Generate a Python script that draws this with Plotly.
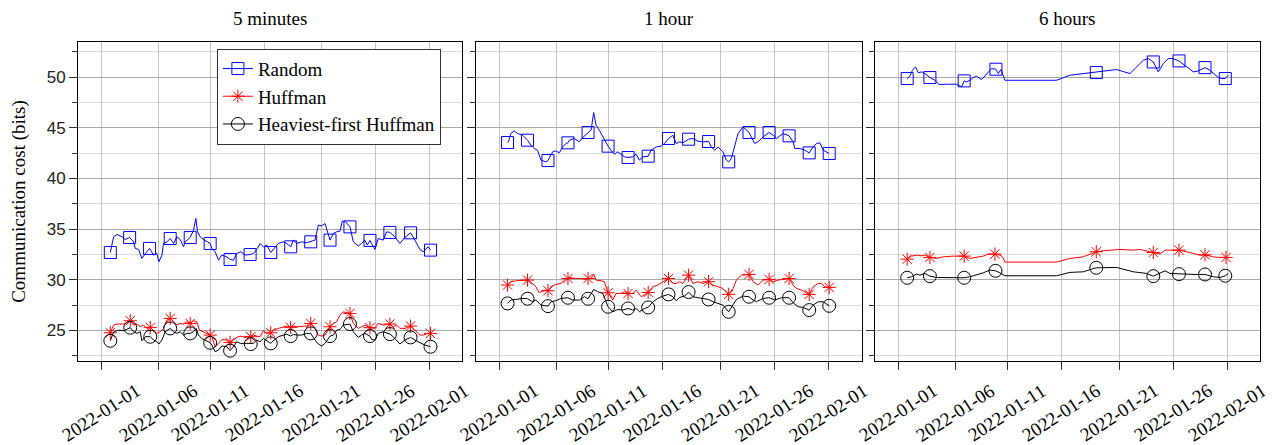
import plotly.graph_objects as go

# ---------------- data ----------------
tick_labels = ["2022-01-01", "2022-01-06", "2022-01-11", "2022-01-16",
               "2022-01-21", "2022-01-26", "2022-02-01"]
tick_pos = [0, 5.43, 10.26, 15.38, 20.80, 25.91, 31.0]
panel_titles = ["5 minutes", "1 hour", "6 hours"]
series_names = ["Random", "Huffman", "Heaviest-first Huffman"]

# Panel 1: 5 minutes
p1_random_x = [0.85, 1.16, 1.48, 1.95, 2.26, 2.67, 3.05, 3.20, 3.52, 3.83, 4.15, 4.55, 4.93, 5.24, 5.43,
               5.72, 5.87, 6.19, 6.50, 6.82, 7.13, 7.44, 7.76, 7.91, 8.39, 8.70, 8.92, 9.08, 9.33, 9.70,
               10.02, 10.27, 10.43, 10.74, 11.06, 11.37, 11.84, 12.15, 12.47, 12.78, 13.16, 13.57, 14.04,
               14.35, 14.73, 14.98, 15.30, 15.61, 15.99, 16.30, 16.71, 17.18, 17.49, 17.87, 18.12, 18.44,
               18.91, 19.38, 19.76, 20.16, 20.48, 20.79, 21.11, 21.26, 21.58, 21.89, 22.21, 22.52, 22.74,
               23.05, 23.46, 23.78, 24.25, 24.56, 24.87, 25.09, 25.35, 25.50, 25.82, 26.13, 26.60, 26.92,
               27.23, 27.70, 28.17, 28.64, 29.18, 29.59, 30.06, 30.37, 30.84, 31.06]
p1_random_y = [32.69, 34.24, 34.47, 34.24, 33.97, 34.17, 33.74, 33.09, 32.99, 32.10, 32.59, 33.09, 32.43, 32.59, 31.77,
               32.43, 33.58, 33.74, 34.07, 33.58, 34.24, 33.97, 33.25, 33.74, 34.17, 34.90, 36.05, 34.73, 34.24, 33.91,
               33.74, 33.58, 33.09, 32.76, 31.93, 32.43, 32.26, 32.00, 31.93, 32.59, 32.76, 32.43, 32.49,
               32.59, 33.09, 33.58, 33.25, 33.42, 32.69, 33.09, 33.58, 33.74, 33.58, 33.25, 33.91, 33.58,
               33.74, 33.65, 33.74, 33.91, 35.39, 35.32, 35.55, 35.06, 33.91, 34.57, 34.73, 34.80, 35.79,
               35.72, 35.22, 33.74, 33.32, 33.58, 33.91, 33.42, 33.88, 33.58, 32.99, 34.07, 33.91, 34.73,
               34.67, 34.24, 33.58, 34.17, 34.63, 33.91, 32.99, 32.76, 33.25, 32.92]
p1_huffman_x = [0.85, 1.16, 1.48, 2.10, 2.73, 3.05, 3.36, 3.67, 3.99, 4.30, 4.62, 4.93, 5.24, 5.56, 5.87,
                6.19, 6.50, 6.82, 7.13, 7.44, 7.76, 8.07, 8.39, 8.70, 9.01, 9.26, 9.64, 10.27, 10.43, 10.74,
                11.06, 11.37, 11.84, 12.15, 12.47, 12.78, 13.10, 13.57, 14.10, 14.35, 14.67, 14.98, 15.30,
                15.61, 15.99, 16.30, 16.71, 17.18, 17.49, 17.87, 18.12, 18.44, 18.91, 19.38, 19.76, 20.16,
                20.48, 20.79, 21.11, 21.58, 21.89, 22.21, 22.52, 22.83, 23.46, 23.78, 24.25, 24.56, 24.87,
                25.35, 25.82, 26.13, 26.60, 27.23, 27.54, 27.86, 28.17, 28.64, 29.18, 29.59, 30.06, 30.37,
                30.84, 31.06]
p1_huffman_y = [24.76, 25.52, 25.62, 25.62, 25.95, 25.52, 25.62, 25.35, 25.52, 25.19, 25.29, 25.03, 24.70, 24.86, 25.19,
                26.01, 26.18, 25.85, 25.52, 25.68, 25.62, 25.85, 25.68, 25.95, 25.85, 25.03, 24.86, 24.53, 24.37, 23.38,
                23.71, 24.10, 24.04, 23.81, 24.04, 24.30, 24.43, 24.30, 24.37, 24.53, 24.43, 24.37, 24.96,
                24.70, 24.76, 25.03, 25.19, 25.29, 25.42, 25.29, 25.42, 25.35, 25.35, 25.42, 25.68, 25.19,
                24.53, 24.43, 24.53, 25.35, 25.68, 25.85, 26.51, 26.83, 26.67, 25.68, 25.19, 25.35, 25.52,
                25.26, 25.19, 25.68, 25.52, 25.62, 25.35, 25.52, 25.19, 25.19, 25.42, 25.03, 24.53, 24.53,
                24.70, 24.70]
p1_heaviest_x = [0.85, 1.16, 1.63, 2.10, 2.73, 3.05, 3.36, 3.67, 3.83, 4.15, 4.62, 4.93, 5.24, 5.43, 5.72,
                 6.03, 6.50, 6.82, 7.13, 7.44, 7.76, 8.07, 8.39, 8.70, 8.95, 9.17, 9.48, 10.27, 10.43, 10.74,
                 11.06, 11.37, 11.84, 12.15, 12.47, 12.78, 13.10, 13.57, 14.10, 14.35, 14.67, 14.98, 15.30,
                 15.61, 15.99, 16.30, 16.71, 17.18, 17.49, 17.87, 18.12, 18.44, 18.91, 19.38, 19.76, 20.16,
                 20.48, 20.79, 21.11, 21.58, 21.89, 22.21, 22.52, 22.83, 23.46, 23.78, 24.25, 24.56, 24.87,
                 25.35, 25.50, 25.82, 26.13, 26.60, 27.23, 27.54, 27.86, 28.17, 28.64, 29.18, 29.59, 30.06,
                 30.53, 31.06]
p1_heaviest_y = [23.97, 24.86, 25.02, 24.96, 25.26, 24.86, 24.70, 24.86, 23.97, 24.37, 24.37, 24.04, 23.87, 23.64, 24.04,
                 24.86, 25.19, 24.86, 24.70, 24.86, 24.53, 24.70, 24.70, 24.86, 25.19, 24.53, 24.20, 23.77, 23.54, 22.89,
                 23.05, 23.45, 23.38, 22.99, 23.38, 23.87, 23.71, 23.71, 23.64, 23.71, 24.04, 23.87, 24.20,
                 23.97, 23.71, 24.04, 24.37, 24.53, 24.63, 24.43, 24.60, 24.53, 24.53, 24.70, 24.70, 24.04,
                 23.64, 23.45, 23.71, 24.43, 24.53, 25.02, 25.09, 25.52, 25.62, 24.86, 24.30, 24.53, 24.70,
                 24.43, 24.10, 24.04, 24.70, 24.86, 24.63, 24.37, 24.04, 23.64, 24.04, 24.30, 24.04, 23.77,
                 23.54, 23.38]
p1_marks = [0.85, 2.67, 4.58, 6.50, 8.39, 10.27, 12.15, 14.06, 15.99, 17.87, 19.76, 21.58,
            23.46, 25.35, 27.23, 29.18, 31.06]

# Panel 2: 1 hour
p2_random_x = [0.79, 0.88, 1.10, 1.41, 1.73, 2.20, 2.67, 2.98, 3.30, 3.61, 3.93, 4.40, 4.59, 4.71, 5.03,
               5.34, 5.65, 5.97, 6.28, 6.47, 6.60, 7.07, 7.54, 7.85, 8.36, 8.64, 8.89, 9.11, 9.42, 9.74,
               10.24, 10.52, 10.84, 11.15, 11.46, 11.78, 12.12, 12.56, 12.88, 13.19, 13.51, 14.01, 14.29,
               14.76, 15.23, 15.55, 15.92, 16.33, 16.65, 16.96, 17.27, 17.81, 18.22, 18.69, 19.16, 19.69,
               19.94, 20.26, 20.57, 21.04, 21.36, 21.58, 21.83, 22.14, 22.46, 22.93, 23.49, 24.03, 24.34,
               24.81, 25.38, 25.75, 26.07, 26.70, 27.26, 27.64, 27.80, 28.27, 28.74, 29.15, 29.52, 29.84,
               30.15, 30.47, 31.03]
p2_random_y = [43.55, 43.62, 44.44, 44.70, 44.44, 44.27, 43.78, 43.29, 42.96, 42.79, 41.81, 41.64, 41.77, 41.97, 42.63,
               42.73, 42.53, 43.12, 43.45, 43.52, 43.78, 43.95, 43.62, 44.04, 44.54, 44.77, 46.51, 45.26, 44.77, 44.11,
               43.19, 42.79, 42.40, 42.63, 42.40, 42.14, 42.07, 42.14, 42.40, 41.81, 42.14, 42.20, 42.79,
               43.12, 43.19, 43.45, 43.95, 44.27, 43.45, 43.62, 43.52, 43.88, 43.95, 43.68, 43.62, 43.65,
               43.12, 42.79, 43.12, 42.63, 41.81, 41.64, 41.97, 43.29, 44.44, 45.10, 44.54, 43.45, 43.62,
               44.11, 44.54, 44.27, 43.95, 44.44, 44.21, 43.62, 42.96, 42.96, 42.79, 42.53, 43.12, 43.45,
               43.52, 42.79, 42.47]
p2_huffman_x = [0.79, 1.10, 1.57, 2.20, 2.67, 3.14, 3.46, 3.77, 4.24, 4.59, 4.87, 5.34, 5.81, 6.28, 6.47,
                6.60, 7.22, 7.70, 8.17, 8.36, 8.64, 8.89, 9.11, 9.58, 9.89, 10.24, 10.68, 10.99, 11.46, 11.78,
                12.12, 12.56, 12.88, 13.35, 13.66, 14.01, 14.45, 14.92, 15.39, 15.92, 16.33, 16.65, 16.96,
                17.27, 17.81, 18.22, 18.69, 19.16, 19.69, 20.10, 20.57, 21.04, 21.58, 21.99, 22.30, 22.77,
                23.49, 23.87, 24.34, 24.81, 25.38, 25.75, 26.23, 26.85, 27.26, 27.64, 27.95, 28.42, 28.74,
                29.15, 29.52, 29.99, 30.31, 30.62, 31.03]
p2_huffman_y = [29.47, 29.80, 29.90, 29.96, 29.96, 29.63, 29.30, 28.71, 28.97, 28.91, 29.30, 29.53, 29.63, 30.12, 30.12,
                30.22, 30.12, 30.12, 30.03, 30.12, 30.12, 30.55, 29.96, 29.90, 29.80, 28.71, 27.99, 28.64, 28.64, 28.81,
                28.64, 28.64, 28.97, 28.32, 28.48, 28.74, 29.30, 29.47, 29.80, 30.12, 29.63, 29.63, 29.80,
                29.63, 30.45, 29.63, 29.80, 29.63, 29.80, 29.47, 29.30, 29.14, 28.55, 29.14, 29.96, 30.45,
                30.52, 29.80, 29.47, 29.96, 30.03, 29.80, 29.96, 30.03, 30.12, 29.47, 29.14, 28.97, 28.81,
                28.55, 29.30, 29.63, 29.63, 29.30, 29.24]
p2_heaviest_x = [0.79, 1.10, 1.57, 2.20, 2.67, 3.14, 3.46, 3.93, 4.59, 4.87, 5.34, 5.81, 6.47, 6.91, 7.54,
                 8.01, 8.36, 8.64, 8.89, 9.27, 9.74, 10.24, 10.68, 11.15, 11.62, 12.12, 12.56, 12.88, 13.19,
                 13.66, 14.01, 14.45, 14.92, 15.39, 15.92, 16.33, 16.65, 16.96, 17.43, 17.81, 18.22, 18.69,
                 19.16, 19.69, 20.10, 20.57, 21.04, 21.58, 21.99, 22.30, 22.93, 23.49, 23.87, 24.19, 24.81,
                 25.38, 25.91, 26.54, 27.26, 27.64, 28.11, 28.58, 29.15, 29.52, 29.99, 30.47, 31.03]
p2_heaviest_y = [27.66, 27.99, 28.05, 28.15, 28.12, 27.82, 27.99, 27.49, 27.39, 27.82, 27.92, 28.15, 28.22, 27.99, 27.99,
                 28.32, 28.12, 28.64, 29.04, 28.81, 28.64, 27.33, 26.83, 27.06, 27.00, 27.16, 27.00, 27.16, 26.83,
                 27.16, 27.26, 27.82, 28.15, 28.38, 28.55, 28.32, 27.92, 28.25, 28.38, 28.78, 28.32, 28.22,
                 28.15, 28.05, 27.82, 27.66, 27.49, 26.83, 27.49, 28.05, 28.38, 28.32, 27.99, 27.82, 28.15,
                 28.22, 27.99, 28.22, 28.22, 27.72, 27.33, 27.26, 27.00, 27.49, 27.82, 27.82, 27.42]
p2_marks = [0.79, 2.67, 4.59, 6.47, 8.36, 10.24, 12.12, 14.01, 15.92, 17.81, 19.69, 21.58,
            23.49, 25.38, 27.26, 29.15, 31.03]

# Panel 3: 6 hours
p3_random_x = [0.84, 1.09, 1.34, 1.63, 1.88, 2.19, 2.51, 2.98, 3.45, 3.83, 4.55, 5.49, 5.96, 6.21, 6.43,
               6.75, 7.06, 7.37, 7.85, 8.32, 8.79, 9.20, 9.42, 9.67, 10.04, 11.46, 13.03, 14.91, 16.17,
               17.42, 18.65, 19.31, 20.57, 21.82, 22.45, 23.08, 23.55, 24.02, 24.49, 24.96, 25.43, 25.90,
               26.44, 27.00, 27.79, 28.26, 28.89, 29.36, 30.14, 30.46, 30.80, 31.09]
p3_random_y = [49.87, 50.10, 50.69, 51.02, 50.43, 50.53, 50.36, 49.97, 49.70, 49.28, 49.31, 49.31, 49.05, 49.64, 49.54,
               49.70, 49.97, 50.10, 49.77, 50.36, 50.86, 50.79, 50.36, 50.76, 49.70, 49.70, 49.70, 49.70, 50.20,
               50.36, 50.46, 50.59, 50.76, 50.36, 51.02, 51.68, 51.84, 51.51, 50.53, 51.35, 51.84, 51.84,
               51.61, 51.18, 50.53, 50.62, 50.95, 50.69, 49.97, 49.87, 49.87, 50.20]
p3_huffman_x = [0.84, 1.25, 1.72, 2.19, 2.51, 2.98, 3.61, 4.23, 5.18, 6.21, 6.75, 7.37, 8.00, 8.47, 9.10,
                9.57, 9.82, 10.04, 11.46, 13.03, 14.91, 16.17, 17.42, 18.65, 19.31, 20.88, 22.14, 22.76,
                23.39, 24.02, 24.65, 25.12, 25.90, 26.44, 27.16, 27.95, 28.42, 28.89, 29.67, 30.30, 30.87]
p3_huffman_y = [32.03, 32.33, 32.43, 32.36, 32.43, 32.20, 32.10, 32.26, 32.33, 32.33, 32.10, 32.20, 32.33, 32.53, 32.53,
                32.43, 32.26, 31.74, 31.74, 31.74, 31.74, 32.10, 32.26, 32.76, 32.86, 32.99, 32.92, 32.99,
                32.82, 32.69, 32.53, 32.92, 32.92, 32.92, 32.76, 32.53, 32.43, 32.46, 32.26, 32.20, 32.20]
p3_heaviest_x = [0.84, 1.25, 1.72, 2.03, 2.51, 2.98, 3.61, 5.18, 6.21, 6.75, 7.37, 8.00, 8.63, 9.16, 9.57,
                 9.82, 10.04, 11.46, 13.03, 14.91, 16.17, 17.42, 18.65, 19.31, 20.57, 22.14, 23.39, 24.02,
                 24.65, 25.12, 25.59, 26.44, 27.16, 27.95, 28.42, 28.89, 29.67, 30.30, 30.80, 31.09]
p3_heaviest_y = [30.19, 30.29, 30.55, 30.45, 30.62, 30.35, 30.22, 30.22, 30.19, 30.29, 30.45, 30.68, 30.95, 30.88, 30.68,
                 30.55, 30.39, 30.39, 30.39, 30.39, 30.72, 30.78, 31.18, 31.21, 31.21, 30.78, 30.62, 30.35,
                 30.68, 30.88, 30.62, 30.55, 30.55, 30.52, 30.55, 30.52, 30.29, 30.22, 30.39, 30.62]
p3_marks = [0.84, 2.98, 6.21, 9.16, 18.65, 24.02, 26.44, 28.89, 30.80]

# ---------------- figure ----------------
panels = [
    ([(p1_random_x, p1_random_y), (p1_huffman_x, p1_huffman_y), (p1_heaviest_x, p1_heaviest_y)], p1_marks),
    ([(p2_random_x, p2_random_y), (p2_huffman_x, p2_huffman_y), (p2_heaviest_x, p2_heaviest_y)], p2_marks),
    ([(p3_random_x, p3_random_y), (p3_huffman_x, p3_huffman_y), (p3_heaviest_x, p3_heaviest_y)], p3_marks),
]
colors = ["#0000ff", "#ff0000", "#000000"]
symbols = ["square-open", "asterisk-open", "circle-open"]
msizes = [12, 11, 13]

SERIF = "Liberation Serif"
SANS = "Liberation Sans"


def mark_idx(xs, marks):
    return [min(range(len(xs)), key=lambda i: abs(xs[i] - m)) for m in marks]


fig = go.Figure()
for p, (series, marks) in enumerate(panels):
    xa = "x" if p == 0 else f"x{p + 1}"
    ya = "y" if p == 0 else f"y{p + 1}"
    for s, (xs, ys) in enumerate(series):
        fig.add_trace(go.Scatter(x=xs, y=ys, mode="lines", xaxis=xa, yaxis=ya,
                                 line=dict(color=colors[s], width=1), showlegend=False,
                                 hoverinfo="skip"))
        idx = mark_idx(xs, marks)
        fig.add_trace(go.Scatter(x=[xs[i] for i in idx], y=[ys[i] for i in idx], mode="markers",
                                 xaxis=xa, yaxis=ya, showlegend=False,
                                 marker=dict(symbol=symbols[s], size=msizes[s], color=colors[s],
                                             line=dict(color=colors[s], width=1))))

for s in range(3):
    fig.add_trace(go.Scatter(x=[None], y=[None], mode="lines+markers", name=series_names[s],
                             line=dict(color=colors[s], width=1),
                             marker=dict(symbol=symbols[s], size=msizes[s], color=colors[s],
                                         line=dict(color=colors[s], width=1))))

domains = [[0.0, 0.3252], [0.3365, 0.6629], [0.6742, 1.0]]
annotations = []
for p in range(3):
    xkey = "xaxis" if p == 0 else f"xaxis{p + 1}"
    ykey = "yaxis" if p == 0 else f"yaxis{p + 1}"
    fig.layout[xkey] = dict(
        domain=domains[p], range=[-2.2, 34.07], tickmode="array", tickvals=tick_pos,
        showticklabels=False, ticks="outside", ticklen=8, tickcolor="#333",
        showgrid=True, gridcolor="#c4c4c4", gridwidth=1, zeroline=False,
        showline=True, linecolor="black", linewidth=1, mirror=True,
        anchor="y" if p == 0 else f"y{p + 1}")
    fig.layout[ykey] = dict(
        range=[21.97, 53.48], tick0=0, dtick=5, ticks="outside", ticklen=8, tickcolor="#333",
        showticklabels=(p == 0), tickfont=dict(family=SANS, size=17, color="#222"),
        showgrid=True, gridcolor="#a8a8a8", gridwidth=1, zeroline=False,
        minor=dict(dtick=2.5, tick0=0, ticks="outside", ticklen=5, tickcolor="#333",
                   showgrid=True, gridcolor="#dcdcdc", gridwidth=1),
        showline=True, linecolor="black", linewidth=1, mirror=True,
        anchor="x" if p == 0 else f"x{p + 1}")
    xref = "x" if p == 0 else f"x{p + 1}"
    for tv, tl in zip(tick_pos, tick_labels):
        annotations.append(dict(x=tv, xref=xref, y=-0.163, yref="paper", text=tl,
                                textangle=-33, showarrow=False, xanchor="center", yanchor="middle",
                                font=dict(family=SERIF, size=19, color="black")))
    annotations.append(dict(x=(domains[p][0] + domains[p][1]) / 2, xref="paper", y=1.074, yref="paper",
                            text=panel_titles[p], showarrow=False, xanchor="center", yanchor="middle",
                            font=dict(family=SERIF, size=19, color="black")))

annotations.append(dict(x=-0.0505, xref="paper", y=0.5, yref="paper", text="Communication cost (bits)",
                        textangle=-90, showarrow=False, xanchor="center", yanchor="middle",
                        font=dict(family=SERIF, size=19, color="black")))

# the page body adds an 8px offset; the figure is sized so it ends at the window edge
fig.update_layout(
    width=1265, height=437,
    margin=dict(l=69.7, r=12.7, t=33.7, b=84, pad=0),
    paper_bgcolor="white", plot_bgcolor="white",
    annotations=annotations,
    legend=dict(x=0.1175, y=0.979, xanchor="left", yanchor="top", bgcolor="white",
                bordercolor="#333", borderwidth=1, tracegroupgap=0,
                font=dict(family=SERIF, size=19, color="black")),
    showlegend=True,
)

fig.write_html("out.html")
